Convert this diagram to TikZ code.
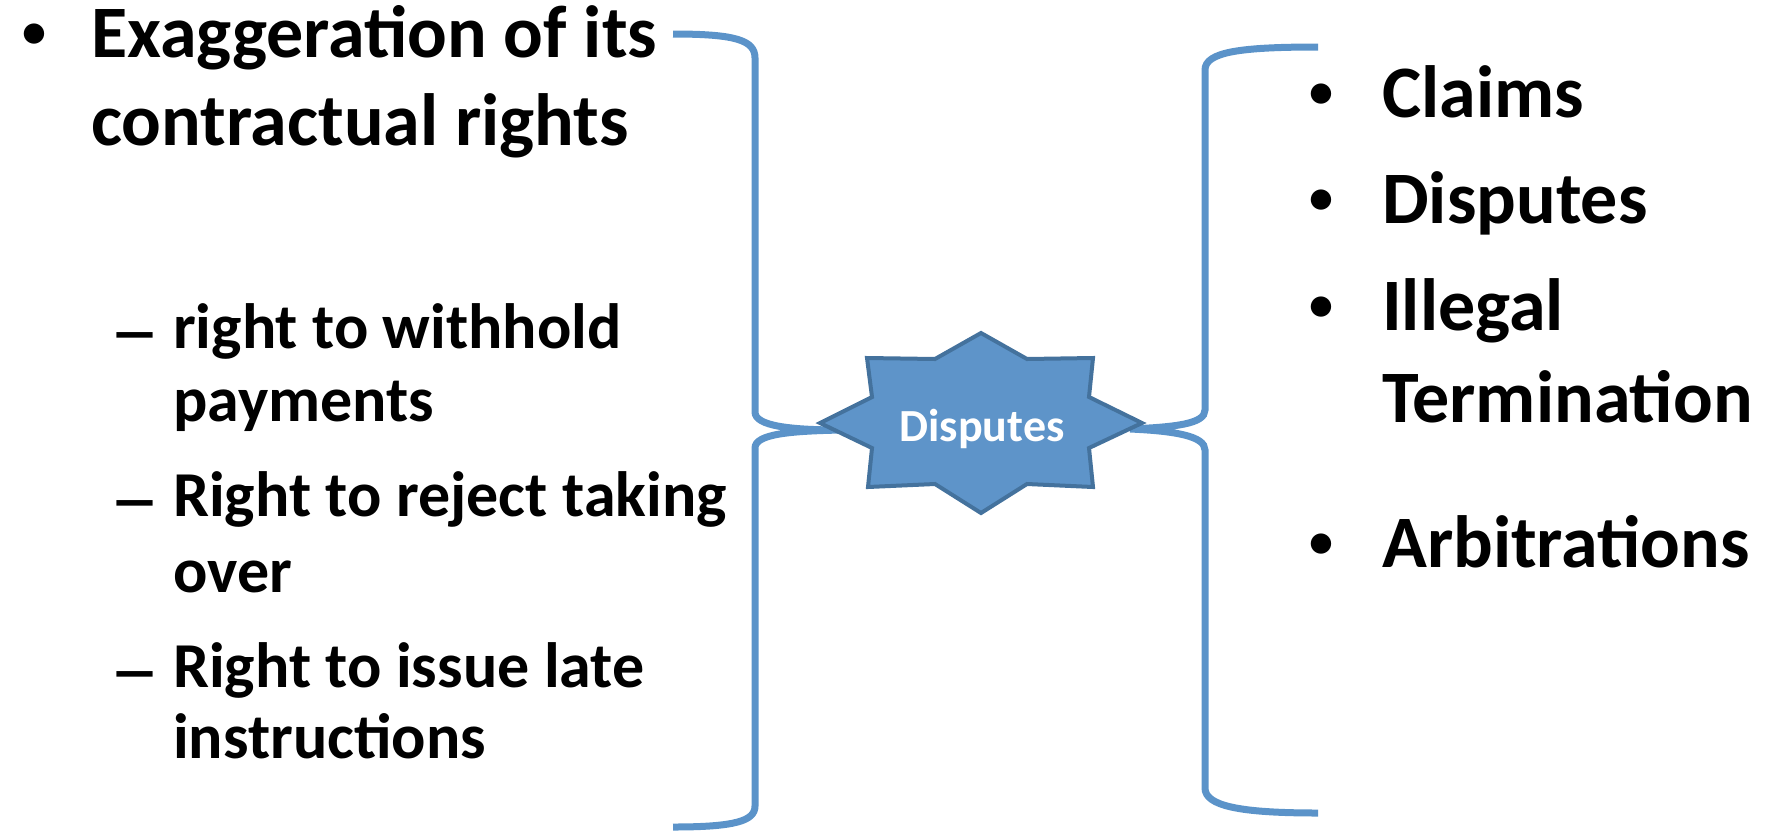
\documentclass[tikz,border=0pt]{standalone}
\usepackage{fontspec}
\setmainfont{Carlito}
\definecolor{braceblue}{HTML}{5B93C9}
\definecolor{starfill}{HTML}{5E94C9}
\definecolor{starline}{HTML}{44729D}
\begin{document}
\begin{tikzpicture}[x=1pt,y=-1pt,
  bigtxt/.style={font=\fontsize{74}{80}\selectfont\bfseries, anchor=base west, inner sep=0pt},
  subtxt/.style={font=\fontsize{64}{70}\selectfont\bfseries, anchor=base west, inner sep=0pt},
  bul/.style={font=\fontsize{48}{50}\selectfont\bfseries, anchor=base, inner sep=0pt},
  dsh/.style={font=\fontsize{64}{70}\selectfont\bfseries, anchor=base west, inner sep=0pt},
  bracket/.style={draw=braceblue, line width=7pt},
  starshape/.style={fill=starfill, draw=starline, line width=4pt, line join=miter},
  startxt/.style={font=\fontsize{46}{50}\selectfont\bfseries, text=white, anchor=base, inner sep=0pt}]
\useasboundingbox (0,0) rectangle (1774,831);

% braces
\coordinate (lcusp) at (842,430);
\coordinate (rcusp) at (1130,429);
\draw[bracket] (673,34) .. controls (735,34) and (755,40) .. (755,58) -- (755,412)
  .. controls (755,426) and (790,430) .. (lcusp)
  .. controls (790,431) and (755,434) .. (755,448) -- (755,806)
  .. controls (755,821) and (735,827) .. (673,827);
\draw[bracket] (1318,47) .. controls (1240,47) and (1205,52) .. (1205,70) -- (1205,410)
  .. controls (1205,424) and (1175,427) .. (rcusp)
  .. controls (1175,431) and (1205,436) .. (1205,450) -- (1205,788)
  .. controls (1205,806) and (1240,813) .. (1318,813);

% star
\coordinate (starc) at (981,423);
\filldraw[starshape] (981,333) -- (935,359) -- (867,358) -- (872,397) -- (820,423)
  -- (872,448) -- (868,487) -- (935,484) -- (981,513) -- (1027,484) -- (1093,487)
  -- (1089,448) -- (1142,423) -- (1089,397) -- (1093,358) -- (1027,359) -- cycle;
\node[startxt] (startext) at (982,441) {Disputes};

% left text
\node[bul] (lb1) at (34,47) {•};
\node[bigtxt] (l1) at (91,57) {Exaggeration of its};
\node[bigtxt] (l2) at (91,145) {contractual rights};
\node[dsh] (d1) at (109,353) {\scalebox{1.6}[1]{–}};
\node[subtxt] (s1a) at (173,348) {right to withhold};
\node[subtxt] (s1b) at (173,421) {payments};
\node[dsh] (d2) at (109,521) {\scalebox{1.6}[1]{–}};
\node[subtxt] (s2a) at (173,516) {Right to reject taking};
\node[subtxt] (s2b) at (173,592) {over};
\node[dsh] (d3) at (109,692) {\scalebox{1.6}[1]{–}};
\node[subtxt] (s3a) at (173,687) {Right to issue late};
\node[subtxt] (s3b) at (173,758) {instructions};

% right text
\node[bul] (rb1) at (1321,107) {•};
\node[bigtxt] (r1) at (1382,117) {Claims};
\node[bul] (rb2) at (1321,213) {•};
\node[bigtxt] (r2) at (1382,223) {Disputes};
\node[bul] (rb3) at (1321,320) {•};
\node[bigtxt] (r3a) at (1382,330) {Illegal};
\node[bigtxt] (r3b) at (1382,422) {Termination};
\node[bul] (rb4) at (1321,557) {•};
\node[bigtxt] (r4) at (1382,567) {Arbitrations};
\end{tikzpicture}
\end{document}
